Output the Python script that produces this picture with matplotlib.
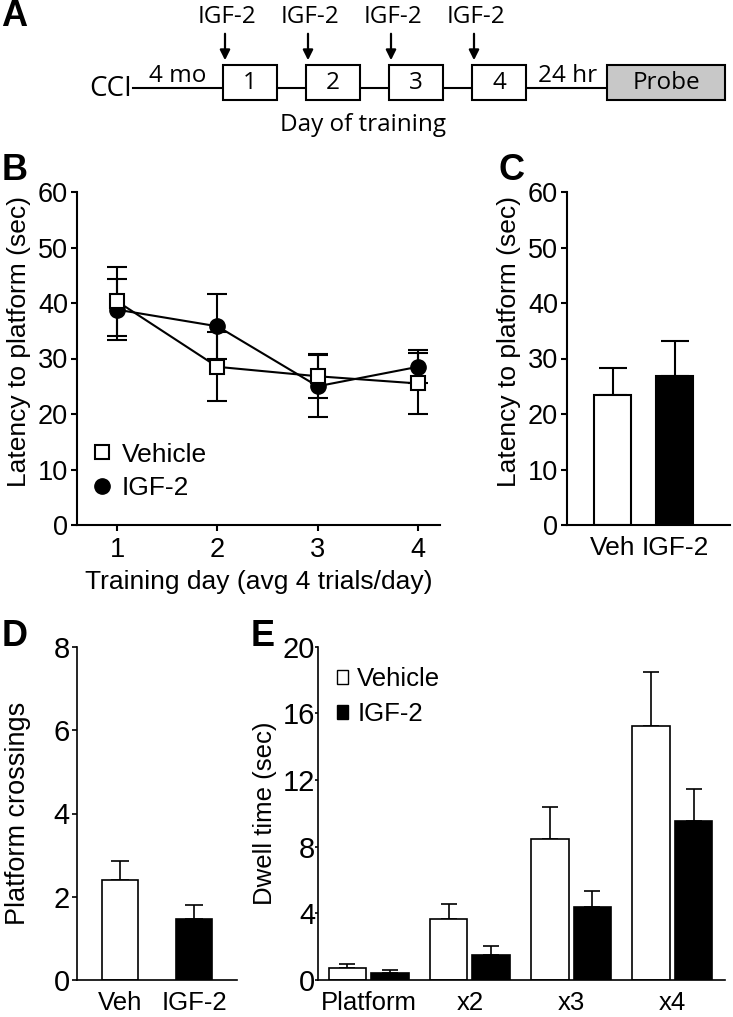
import matplotlib
matplotlib.use('Agg')
import matplotlib.pyplot as plt
from matplotlib.patches import Rectangle, Patch
from matplotlib.lines import Line2D

W, H = 733, 1017

# Datos del esquema (A)
dias_entreno = ['1', '2', '3', '4']

# Latencia por dia de entrenamiento (B)
dias = [1, 2, 3, 4]
lat_veh = [40.3, 28.5, 26.8, 25.5]
lat_veh_err = [6.2, 6.2, 4.0, 5.5]
lat_igf = [38.8, 35.8, 25.0, 28.5]
lat_igf_err = [5.5, 5.8, 5.6, 3.0]

# Prueba (C, D)
grupos = ['Veh', 'IGF-2']
probe_lat = [23.5, 26.8]
probe_lat_err = [4.7, 6.4]
cruces = [2.4, 1.47]
cruces_err = [0.45, 0.34]

# Tiempo de permanencia (E)
zonas = ['Platform', 'x2', 'x3', 'x4']
dwell_veh = [0.72, 3.68, 8.48, 15.24]
dwell_veh_err = [0.24, 0.87, 1.92, 3.24]
dwell_igf = [0.44, 1.52, 4.38, 9.56]
dwell_igf_err = [0.18, 0.51, 0.96, 1.92]

plt.rcParams['font.family'] = ['Liberation Sans', 'DejaVu Sans']


def rect(l, t, r, b):
    return [l / W, 1 - b / H, (r - l) / W, (b - t) / H]


fig = plt.figure(figsize=(W / 100, H / 100), dpi=100)

# Capa de fondo en pixeles para el esquema y las letras
bg = fig.add_axes([0, 0, 1, 1])
bg.set_xlim(0, W)
bg.set_ylim(H, 0)
bg.axis('off')

fa = dict(family=['Open Sans', 'DejaVu Sans'], fontsize=17.5)
bg.plot([133, 607], [88, 88], color='k', lw=1.5, zorder=1)
for i, d in enumerate(dias_entreno):
    x0 = 223 + i * 83
    bg.add_patch(Rectangle((x0, 65), 54, 35, facecolor='white', edgecolor='k', lw=1.5, zorder=2))
    bg.text(x0 + 27, 83, d, ha='center', va='center', **fa)
    bg.annotate('', xy=(x0 + 2, 63), xytext=(x0 + 2, 31),
                arrowprops=dict(arrowstyle='-|>', color='k', lw=1.6, mutation_scale=15))
    bg.text(x0 + 4, 17, 'IGF-2', ha='center', va='center', **fa)
bg.add_patch(Rectangle((607, 65), 118, 35, facecolor='#c8c8c8', edgecolor='k', lw=1.5, zorder=2))
bg.text(666, 83, 'Probe', ha='center', va='center', **fa)
bg.text(132, 89, 'CCI', ha='right', va='center', family=['Open Sans', 'DejaVu Sans'], fontsize=20)
bg.text(178, 76, '4 mo', ha='center', va='center', **fa)
bg.text(568, 76, '24 hr', ha='center', va='center', **fa)
bg.text(363, 125, 'Day of training', ha='center', va='center', **fa)

fl = dict(family=['Liberation Sans Narrow', 'Liberation Sans'], fontweight='bold', fontsize=26)
bg.text(14, 17, 'A', ha='center', va='center', **fl)
bg.text(15, 171, 'B', ha='center', va='center', **fl)
bg.text(512, 171, 'C', ha='center', va='center', **fl)
bg.text(15, 637, 'D', ha='center', va='center', **fl)
bg.text(263, 637, 'E', ha='center', va='center', **fl)


def estilo(ax, lw, largo, ancho, tam, pad):
    for s in ['top', 'right']:
        ax.spines[s].set_visible(False)
    for s in ['left', 'bottom']:
        ax.spines[s].set_linewidth(lw)
    ax.tick_params(axis='y', length=largo, width=ancho, labelsize=tam, pad=pad)


# B
ax_b = fig.add_axes(rect(77, 192, 440, 525))
ax_b.errorbar(dias, lat_igf, yerr=lat_igf_err, color='k', lw=1.5, marker='o', ms=11,
              mfc='k', mec='k', capsize=7, capthick=1.5, elinewidth=1.5, label='IGF-2')
ax_b.errorbar(dias, lat_veh, yerr=lat_veh_err, color='k', lw=1.5, marker='s', ms=10,
              mfc='white', mec='k', mew=1.5, capsize=7, capthick=1.5, elinewidth=1.5, label='Vehicle')
ax_b.set_xlim(0.6, 4.22)
ax_b.set_ylim(0, 60)
ax_b.set_yticks(range(0, 61, 10))
ax_b.set_xticks(dias)
estilo(ax_b, 1.5, 4.5, 1.5, 19.5, 2)
ax_b.tick_params(axis='x', length=4.5, width=1.5, pad=4, labelsize=19.5)
ax_b.set_xlabel('Training day (avg 4 trials/day)', fontsize=19, labelpad=5)
ax_b.set_ylabel('Latency to platform (sec)', fontsize=19, labelpad=5)
ax_b.yaxis.label.set_y(0.55)
hb = [Line2D([], [], ls='none', marker='s', ms=10, mfc='white', mec='k', mew=1.5),
      Line2D([], [], ls='none', marker='o', ms=11, mfc='k', mec='k')]
ax_b.legend(hb, ['Vehicle', 'IGF-2'], loc='lower left', bbox_to_anchor=(-0.014, 0.02),
            frameon=False, fontsize=19, handlelength=0.9, handletextpad=0.3,
            labelspacing=0.35, borderpad=0.2)

# C
ax_c = fig.add_axes(rect(567, 192, 730, 525))
xc = range(len(grupos))
ax_c.bar(xc, probe_lat, width=0.6, color=['white', 'black'], edgecolor='k', lw=1.5, zorder=2)
ax_c.errorbar(xc, probe_lat, yerr=[[0, 0], probe_lat_err], fmt='none', ecolor='k',
              elinewidth=1.5, capsize=10, capthick=1.5, zorder=1)
ax_c.set_xlim(-0.74, 1.89)
ax_c.set_ylim(0, 60)
ax_c.set_yticks(range(0, 61, 10))
ax_c.set_xticks(list(xc))
ax_c.set_xticklabels(grupos)
estilo(ax_c, 1.5, 4.5, 1.5, 19.5, 2)
ax_c.tick_params(axis='x', length=0, pad=8, labelsize=19)
ax_c.set_ylabel('Latency to platform (sec)', fontsize=19, labelpad=5)
ax_c.yaxis.label.set_y(0.55)

# D
ax_d = fig.add_axes(rect(77, 647, 237, 980))
xd = range(len(grupos))
ax_d.bar(xd, cruces, width=0.49, color=['white', 'black'], edgecolor='k', lw=1.2, zorder=2)
ax_d.errorbar(xd, cruces, yerr=[[0, 0], cruces_err], fmt='none', ecolor='k',
              elinewidth=1.2, capsize=6.5, capthick=1.2, zorder=1)
ax_d.set_xlim(-0.59, 1.585)
ax_d.set_ylim(0, 8)
ax_d.set_yticks(range(0, 9, 2))
ax_d.set_xticks(list(xd))
ax_d.set_xticklabels(grupos)
estilo(ax_d, 1.2, 3.6, 1.2, 21, 1.5)
ax_d.tick_params(axis='x', length=0, pad=8, labelsize=18.5)
ax_d.set_ylabel('Platform crossings', fontsize=19.5, labelpad=16)

# E
ax_e = fig.add_axes(rect(318, 646.5, 725, 980))
xe = list(range(len(zonas)))
ax_e.bar([x - 0.21 for x in xe], dwell_veh, width=0.37, color='white', edgecolor='k', lw=1.2, zorder=2)
ax_e.bar([x + 0.21 for x in xe], dwell_igf, width=0.37, color='black', edgecolor='k', lw=1.2, zorder=2)
ax_e.errorbar([x - 0.21 for x in xe], dwell_veh, yerr=[[0] * 4, dwell_veh_err], fmt='none',
              ecolor='k', elinewidth=1.2, capsize=6, capthick=1.2, zorder=1)
ax_e.errorbar([x + 0.21 for x in xe], dwell_igf, yerr=[[0] * 4, dwell_igf_err], fmt='none',
              ecolor='k', elinewidth=1.2, capsize=6, capthick=1.2, zorder=1)
ax_e.set_xlim(-0.5, 3.52)
ax_e.set_ylim(0, 20)
ax_e.set_yticks(range(0, 21, 4))
ax_e.set_xticks(xe)
ax_e.set_xticklabels(zonas)
estilo(ax_e, 1.2, 2.5, 1.2, 21, -0.5)
ax_e.tick_params(axis='x', length=0, pad=8, labelsize=18.5)
ax_e.set_ylabel('Dwell time (sec)', fontsize=18.5, labelpad=4)
he = [Patch(facecolor='white', edgecolor='k', lw=1.0), Patch(facecolor='black', edgecolor='k')]
ax_e.legend(he, ['Vehicle', 'IGF-2'], loc='upper left', bbox_to_anchor=(0.008, 0.985),
            frameon=False, fontsize=18.5, handlelength=0.45, handleheight=0.45,
            handletextpad=0.35, labelspacing=0.45, borderpad=0.1)

fig.savefig('out.png', dpi=100)
